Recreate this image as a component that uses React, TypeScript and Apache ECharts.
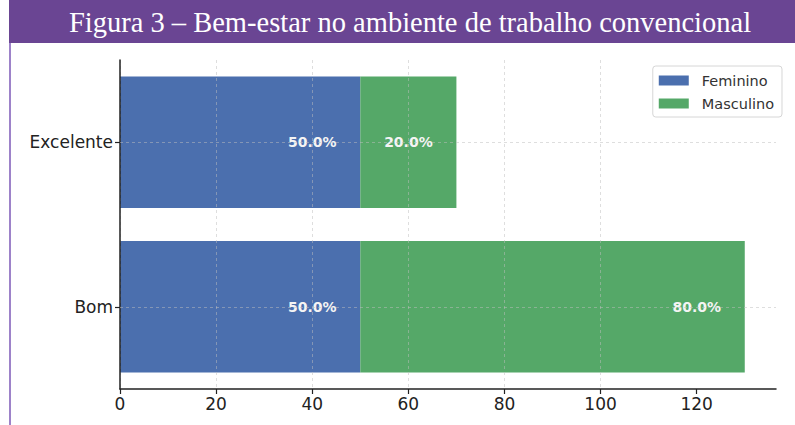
import React, { useEffect, useRef } from "react";
import * as echarts from "echarts";

const titleText = "Figura 3 – Bem-estar no ambiente de trabalho convencional";
const categories = ["Bom", "Excelente"];
const femininoValues = [50, 50];
const masculinoValues = [80, 20];
const femininoLabels = ["50.0%", "50.0%"];
const masculinoLabels = ["80.0%", "20.0%"];
const xTicks = [0, 20, 40, 60, 80, 100, 120];
const seriesNames = ["Feminino", "Masculino"];

export default function App() {
  const ref = useRef<HTMLDivElement>(null);
  useEffect(() => {
    if (!ref.current) return;
    const chart = echarts.init(ref.current, undefined, { renderer: "svg" });
    const gridColor = "rgba(190,190,190,0.5)";
    const labelStyle = {
      show: true,
      position: ["100%", "50%"] as any,
      offset: [-48, 0],
      align: "center" as const,
      verticalAlign: "middle" as const,
      color: "#f4f4f4",
      fontFamily: "DejaVu Sans",
      fontWeight: "bold" as const,
      fontSize: 14,
    };
    chart.setOption({
      animation: false,
      backgroundColor: "#ffffff",
      graphic: [
        {
          type: "rect",
          shape: { x: 9, y: 0, width: 786, height: 43 },
          style: { fill: "#6a4593" },
          z: 10,
        },
        {
          type: "rect",
          shape: { x: 9, y: 43, width: 2, height: 382 },
          style: { fill: "#9d82c9" },
          z: 10,
        },
        {
          type: "text",
          x: 410,
          y: 22,
          style: {
            text: titleText,
            fill: "#ffffff",
            font: "28.5px 'Liberation Serif'",
            textAlign: "center",
            textVerticalAlign: "middle",
          },
          z: 11,
        },
      ],
      legend: {
        data: seriesNames,
        orient: "vertical",
        right: 13,
        top: 66,
        itemWidth: 30,
        itemHeight: 10,
        itemGap: 8,
        padding: [7, 8, 6, 6],
        borderColor: "#d6d6d6",
        borderWidth: 1,
        borderRadius: 3,
        icon: "rect",
        textStyle: {
          fontFamily: "DejaVu Sans",
          fontSize: 14.5,
          color: "#333",
          padding: [0, 0, 0, 8],
        },
      },
      grid: { left: 120, right: 19, top: 60, bottom: 36, containLabel: false },
      xAxis: {
        type: "value",
        min: 0,
        max: 136.5,
        interval: 20,
        z: 5,
        axisLine: { show: true, onZero: false, lineStyle: { color: "#222", width: 1.5 } },
        axisTick: {
          show: true,
          length: 5,
          customValues: xTicks,
          lineStyle: { color: "#222", width: 1.2 },
        },
        axisLabel: {
          customValues: xTicks,
          color: "#222",
          fontFamily: "DejaVu Sans",
          fontSize: 17,
          margin: 6,
        },
        splitLine: {
          show: true,
          showMaxLine: false,
          lineStyle: { color: gridColor, type: [3, 3], width: 1 },
        },
      },
      yAxis: {
        type: "category",
        data: categories,
        z: 5,
        axisLine: { show: true, lineStyle: { color: "#222", width: 1.5 } },
        axisTick: {
          show: true,
          alignWithLabel: true,
          length: 5,
          lineStyle: { color: "#222", width: 1.2 },
        },
        axisLabel: {
          color: "#222",
          fontFamily: "DejaVu Sans",
          fontSize: 17,
          margin: 7,
        },
        splitLine: { show: false },
      },
      series: [
        {
          name: seriesNames[0],
          type: "bar",
          stack: "total",
          barWidth: "80%",
          itemStyle: { color: "#4b6fae" },
          label: {
            ...labelStyle,
            formatter: (p: any) => femininoLabels[p.dataIndex],
          },
          data: femininoValues,
          markLine: {
            silent: true,
            symbol: "none",
            label: { show: false },
            lineStyle: { color: gridColor, type: [3, 3], width: 1 },
            z: 6,
            data: categories.map((c) => ({ yAxis: c })),
          },
        },
        {
          name: seriesNames[1],
          type: "bar",
          stack: "total",
          barWidth: "80%",
          itemStyle: { color: "#55a868" },
          label: {
            ...labelStyle,
            formatter: (p: any) => masculinoLabels[p.dataIndex],
          },
          data: masculinoValues,
        },
      ],
    });
    return () => chart.dispose();
  }, []);
  return (
    <div
      ref={ref}
      style={{ position: "fixed", left: 0, top: 0, width: 795, height: 425 }}
    />
  );
}
